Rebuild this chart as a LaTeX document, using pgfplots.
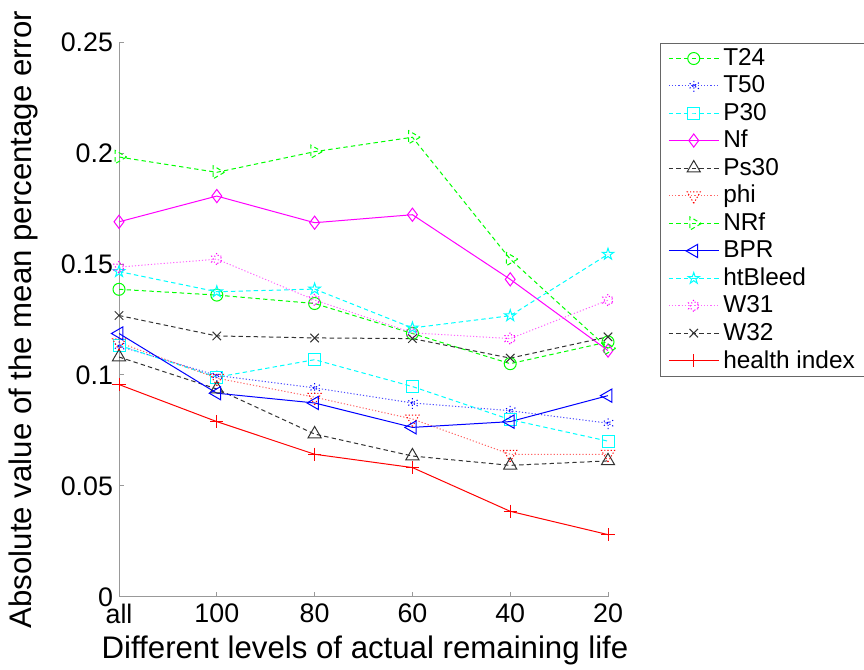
\documentclass[border=0pt]{standalone}
\usepackage{fontspec}
\setmainfont{Liberation Sans}
\usepackage{pgfplots}
\pgfplotsset{compat=1.18}

% MATLAB-like outline stars
\pgfdeclareplotmark{pentagram}{%
  \pgfpathmoveto{\pgfpointpolar{90}{\pgfplotmarksize}}%
  \pgfpathlineto{\pgfpointpolar{126}{0.382\pgfplotmarksize}}%
  \pgfpathlineto{\pgfpointpolar{162}{\pgfplotmarksize}}%
  \pgfpathlineto{\pgfpointpolar{198}{0.382\pgfplotmarksize}}%
  \pgfpathlineto{\pgfpointpolar{234}{\pgfplotmarksize}}%
  \pgfpathlineto{\pgfpointpolar{270}{0.382\pgfplotmarksize}}%
  \pgfpathlineto{\pgfpointpolar{306}{\pgfplotmarksize}}%
  \pgfpathlineto{\pgfpointpolar{342}{0.382\pgfplotmarksize}}%
  \pgfpathlineto{\pgfpointpolar{18}{\pgfplotmarksize}}%
  \pgfpathlineto{\pgfpointpolar{54}{0.382\pgfplotmarksize}}%
  \pgfpathclose\pgfusepathqstroke}
\pgfdeclareplotmark{hexagram}{%
  \pgfpathmoveto{\pgfpointpolar{90}{\pgfplotmarksize}}%
  \pgfpathlineto{\pgfpointpolar{120}{0.577\pgfplotmarksize}}%
  \pgfpathlineto{\pgfpointpolar{150}{\pgfplotmarksize}}%
  \pgfpathlineto{\pgfpointpolar{180}{0.577\pgfplotmarksize}}%
  \pgfpathlineto{\pgfpointpolar{210}{\pgfplotmarksize}}%
  \pgfpathlineto{\pgfpointpolar{240}{0.577\pgfplotmarksize}}%
  \pgfpathlineto{\pgfpointpolar{270}{\pgfplotmarksize}}%
  \pgfpathlineto{\pgfpointpolar{300}{0.577\pgfplotmarksize}}%
  \pgfpathlineto{\pgfpointpolar{330}{\pgfplotmarksize}}%
  \pgfpathlineto{\pgfpointpolar{0}{0.577\pgfplotmarksize}}%
  \pgfpathlineto{\pgfpointpolar{30}{\pgfplotmarksize}}%
  \pgfpathlineto{\pgfpointpolar{60}{0.577\pgfplotmarksize}}%
  \pgfpathclose\pgfusepathqstroke}

\definecolor{mgreen}{rgb}{0,1,0}
\definecolor{mblue}{rgb}{0,0,1}
\definecolor{mcyan}{rgb}{0,1,1}
\definecolor{mmag}{rgb}{1,0,1}
\definecolor{mred}{rgb}{1,0,0}

\tikzset{
  mdash/.style={dash pattern=on 2.2pt off 1.6pt},
  mdot/.style={dash pattern=on 0.6pt off 1pt},
}

\begin{document}
\begin{tikzpicture}
\begin{axis}[
  scale only axis, width=244.5pt, height=277.5pt,
  xmin=0, xmax=5, ymin=0, ymax=0.25,
  axis lines*=left,
  axis line style={black!40, line width=0.5pt},
  tick style={black!40, line width=0.5pt},
  tick align=inside, major tick length=2.5pt,
  xtick={0,1,2,3,4,5},
  xticklabels={all,100,80,60,40,20},
  ytick={0,0.05,0.1,0.15,0.2,0.25},
  yticklabels={0,0.05,0.1,0.15,0.2,0.25},
  ticklabel style={font=\fontsize{13.4}{15}\selectfont},
  yticklabel style={xshift=0.5pt},
  xlabel={Different levels of actual remaining life},
  ylabel={Absolute value of the mean percentage error},
  label style={font=\fontsize{15.6}{17}\selectfont},
  xlabel style={at={(axis description cs:0.503,-0.0965)}, anchor=center},
  ylabel style={at={(axis description cs:-0.196,0.5)}, anchor=center, rotate=0},
  every axis plot/.append style={line width=0.5pt, mark size=3pt, mark options={solid}},
  legend cell align=left,
  every axis legend/.append style={draw=black!60},
  legend style={at={(rel axis cs:1.106,0.998)}, anchor=north west,
    fill=white, font=\fontsize{12.2}{13}\selectfont,
    row sep=-0.4pt, inner xsep=4pt, inner ysep=0.5pt},
  legend image code/.code={%
    \draw[mark repeat=2, mark phase=2, #1] plot coordinates {(0pt,0pt) (12.5pt,0pt) (25pt,0pt)};},
]
\addplot[color=mgreen, mdash, mark=o] coordinates {(0,0.1386) (1,0.1360) (2,0.1322) (3,0.1187) (4,0.1051) (5,0.1149)};
\addlegendentry{T24}
\addplot[color=mblue!70, mdot, mark=asterisk, mark options={mblue}] coordinates {(0,0.1130) (1,0.0998) (2,0.0942) (3,0.0874) (4,0.0839) (5,0.0783)};
\addlegendentry{T50}
\addplot[color=mcyan, mdash, mark=square] coordinates {(0,0.1134) (1,0.0990) (2,0.1069) (3,0.0948) (4,0.0799) (5,0.0702)};
\addlegendentry{P30}
\addplot[color=mmag, mark=diamond, mark size=3.3pt] coordinates {(0,0.1690) (1,0.1806) (2,0.1686) (3,0.1722) (4,0.1431) (5,0.1110)};
\addlegendentry{Nf}
\addplot[color=black!80, mdash, mark=triangle, mark size=3.8pt] coordinates {(0,0.1081) (1,0.0937) (2,0.0734) (3,0.0635) (4,0.0593) (5,0.0613)};
\addlegendentry{Ps30}
\addplot[color=mred!60, mdot, mark=triangle, mark size=3.8pt, mark options={mred, rotate=180}] coordinates {(0,0.1146) (1,0.0986) (2,0.0900) (3,0.0802) (4,0.0643) (5,0.0643)};
\addlegendentry{phi}
\addplot[color=mgreen, mdash, mark=triangle, mark size=3.8pt, mark options={rotate=-90}] coordinates {(0,0.1982) (1,0.1913) (2,0.2006) (3,0.2071) (4,0.1522) (5,0.1120)};
\addlegendentry{NRf}
\addplot[color=mblue, mark=triangle, mark size=3.8pt, mark options={rotate=90}] coordinates {(0,0.1187) (1,0.0918) (2,0.0874) (3,0.0764) (4,0.0790) (5,0.0907)};
\addlegendentry{BPR}
\addplot[color=mcyan, mdash, mark=pentagram] coordinates {(0,0.1466) (1,0.1375) (2,0.1387) (3,0.1212) (4,0.1267) (5,0.1544)};
\addlegendentry{htBleed}
\addplot[color=mmag!60, mdot, mark=hexagram, mark options={mmag}] coordinates {(0,0.1486) (1,0.1522) (2,0.1338) (3,0.1190) (4,0.1164) (5,0.1337)};
\addlegendentry{W31}
\addplot[color=black!80, mdash, mark=x] coordinates {(0,0.1268) (1,0.1176) (2,0.1167) (3,0.1164) (4,0.1076) (5,0.1172)};
\addlegendentry{W32}
\addplot[color=mred, mark=+, mark size=3.3pt] coordinates {(0,0.0957) (1,0.0790) (2,0.0643) (3,0.0583) (4,0.0386) (5,0.0281)};
\addlegendentry{health index}
\coordinate (bbsw) at (rel axis cs:-0.2434,-0.1315);
\coordinate (bbne) at (rel axis cs:1.5235,1.0757);
\end{axis}
\pgfresetboundingbox
\path[use as bounding box] (bbsw) rectangle (bbne);
\end{tikzpicture}
\end{document}
